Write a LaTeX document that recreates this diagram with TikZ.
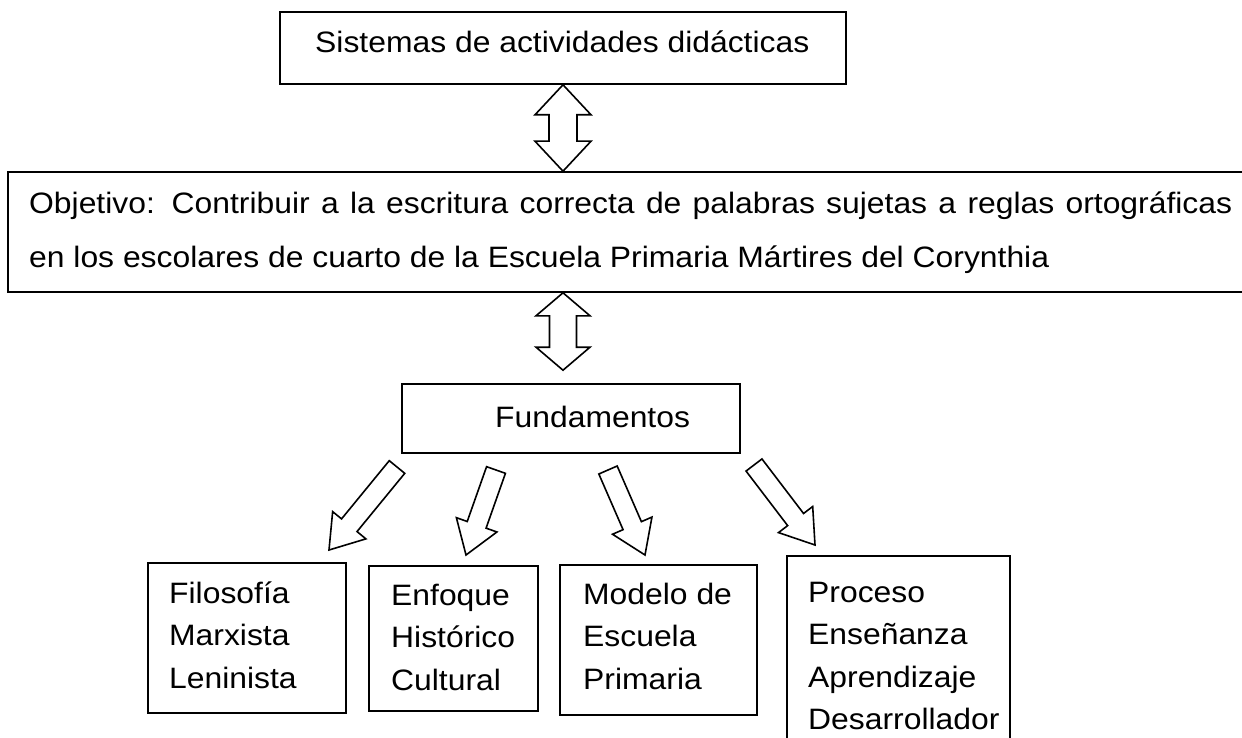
\documentclass[tikz,border=0pt]{standalone}
\usepackage{fontspec}
\setmainfont[FakeStretch=1.08]{Liberation Sans}
\usetikzlibrary{calc}

\tikzset{
	box/.style={draw, line width=1.6pt, inner sep=0pt},
	txt/.style={inner sep=0pt, anchor=north west, align=left,
		font=\fontsize{29.5}{42.5}\selectfont},
	blk/.style={draw, line width=1.6pt, line join=miter},
}

% block arrow: tail, tip, shaft half width, head half width, head length
\newcommand\blockarrow[5]{%
	\coordinate (hb) at ($(#2)!#5pt!(#1)$);
	\draw[blk] ($(#1)!#3pt!90:(#2)$) -- ($(hb)!#3pt!90:(#2)$) -- ($(hb)!#4pt!90:(#2)$) -- (#2)
		-- ($(hb)!#4pt!-90:(#2)$) -- ($(hb)!#3pt!-90:(#2)$) -- ($(#1)!#3pt!-90:(#2)$) -- cycle;
}
% double block arrow: end, end, shaft half width, head half width, head length
\newcommand\dblarrow[5]{%
	\coordinate (ha) at ($(#1)!#5pt!(#2)$);
	\coordinate (hb) at ($(#2)!#5pt!(#1)$);
	\draw[blk] (#1) -- ($(ha)!#4pt!90:(#2)$) -- ($(ha)!#3pt!90:(#2)$)
		-- ($(hb)!#3pt!-90:(#1)$) -- ($(hb)!#4pt!-90:(#1)$) -- (#2)
		-- ($(hb)!#4pt!90:(#1)$) -- ($(hb)!#3pt!90:(#1)$)
		-- ($(ha)!#3pt!-90:(#2)$) -- ($(ha)!#4pt!-90:(#2)$) -- cycle;
}

\begin{document}
\begin{tikzpicture}[x=1pt, y=-1pt]
	\useasboundingbox (0,0) rectangle (1242,738);
	\clip (0,0) rectangle (1242,738);

	\node[box, minimum width=566, minimum height=72] (top) at (563,48) {};
	\node[txt, anchor=base west] (top-t) at (315,53)
	{Sistemas de actividades didácticas};

	\node[box, minimum width=1250, minimum height=120] (obj) at (633,232) {};
	\node[txt, font=\fontsize{29.5}{54}\selectfont] (obj-t) at (29,191.5)
	{\makebox[1203pt][s]{Objetivo: Contribuir a la escritura correcta de palabras sujetas a reglas ortográficas}\\
	en los escolares de cuarto de la Escuela Primaria Mártires del Corynthia};

	\node[box, minimum width=338, minimum height=69] (fund) at (571,418.5) {};
	\node[txt, anchor=base west] (fund-t) at (495,427) {Fundamentos};

	\node[box, minimum width=198, minimum height=150] (fil) at (247,638) {};
	\node[txt] (fil-t) at (169,581.5) {Filosofía\\ Marxista\\ Leninista};

	\node[box, minimum width=169, minimum height=145] (enf) at (453.5,638.5) {};
	\node[txt] (enf-t) at (391,583.5) {Enfoque\\ Histórico\\ Cultural};

	\node[box, minimum width=197, minimum height=150] (mod) at (658.5,640) {};
	\node[txt] (mod-t) at (583,582.5) {Modelo de\\ Escuela\\ Primaria};

	\node[box, minimum width=223, minimum height=220] (pro) at (898.5,666) {};
	\node[txt] (pro-t) at (808,581.5) {Proceso\\ Enseñanza\\ Aprendizaje\\ Desarrollador};

	\coordinate (d1b) at (top.south |- obj.north);
	\dblarrow{top.south}{d1b}{14}{28}{30}
	\coordinate (d2a) at (top.south |- obj.south);
	\coordinate (d2b) at ($(top.south |- fund.north)+(0,-13)$);
	\dblarrow{d2a}{d2b}{13.5}{27}{23}

	\coordinate (t1) at (397,467);
	\coordinate (p1) at (329,550);
	\coordinate (t2) at (496,470);
	\coordinate (p2) at (466,555);
	\coordinate (t3) at (608,470);
	\coordinate (p3) at (645,555);
	\coordinate (t4) at (754,465);
	\coordinate (p4) at (815,545);
	\blockarrow{t1}{p1}{10}{21.5}{32}
	\blockarrow{t2}{p2}{10}{21.5}{32}
	\blockarrow{t3}{p3}{10}{21.5}{32}
	\blockarrow{t4}{p4}{10}{21.5}{32}
\end{tikzpicture}
\end{document}
